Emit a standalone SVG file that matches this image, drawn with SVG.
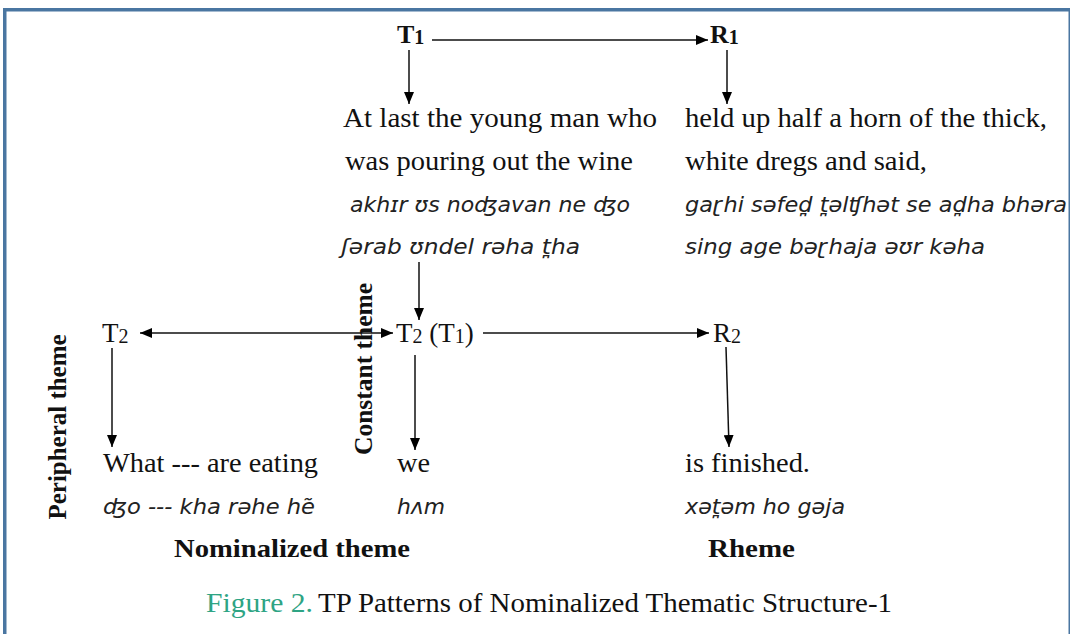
<svg xmlns="http://www.w3.org/2000/svg" width="1070" height="634" viewBox="0 0 1070 634">
  <defs>
    <marker id="ah" viewBox="0 0 12 10" refX="12" refY="5" markerWidth="12" markerHeight="10" orient="auto-start-reverse" markerUnits="userSpaceOnUse">
      <path d="M0,0 L12,5 L0,10 z" fill="#000"/>
    </marker>
    <style>
      .rg { font-family: "Liberation Serif", "Times New Roman", serif; font-size: 27px; fill: #111; }
      .bd { font-family: "Liberation Serif", "Times New Roman", serif; font-size: 26px; font-weight: bold; fill: #111; }
      .it { font-family: "DejaVu Sans", "Noto Sans", sans-serif; font-size: 21px; font-style: oblique; fill: #222; }
      .sub { font-size: 20px; }
      .conn { stroke: #111; stroke-width: 1.5; fill: none; }
      .cap { font-family: "Liberation Serif", "Times New Roman", serif; font-size: 28px; fill: #111; }
      .fig { fill: #2ea484; }
    </style>
  </defs>
  <rect width="1070" height="634" fill="#fff"/>
  <g id="frame">
    <rect x="3" y="8" width="1067" height="3.5" fill="#4a76a1"/>
    <rect x="3" y="8" width="3.5" height="626" fill="#4a76a1"/>
    <rect x="1068.5" y="8" width="1.5" height="626" fill="#4a76a1"/>
  </g>

  <g id="connectors">
    <path class="conn" d="M432,40 H708" marker-end="url(#ah)"/>
    <path class="conn" d="M409,50 V104" marker-end="url(#ah)"/>
    <path class="conn" d="M727,50 V104" marker-end="url(#ah)"/>
    <path class="conn" d="M419,262 V320" marker-end="url(#ah)"/>
    <path class="conn" d="M140,333 H393" marker-start="url(#ah)" marker-end="url(#ah)"/>
    <path class="conn" d="M483,333 H709" marker-end="url(#ah)"/>
    <path class="conn" d="M112,348 V447" marker-end="url(#ah)"/>
    <path class="conn" d="M415,355 V450" marker-end="url(#ah)"/>
    <path class="conn" d="M726,347 L729,447" marker-end="url(#ah)"/>
  </g>

  <g id="T1"><text class="bd" x="397" y="43">T<tspan class="sub" dy="1">1</tspan></text></g>
  <g id="R1"><text class="bd" x="710" y="43">R<tspan class="sub" dy="1">1</tspan></text></g>

  <g id="theme1-text">
    <text class="rg" x="343" y="127" textLength="314" lengthAdjust="spacingAndGlyphs">At last the young man who</text>
    <text class="rg" x="345" y="170" textLength="288" lengthAdjust="spacingAndGlyphs">was pouring out the wine</text>
    <text class="it" x="350" y="212" textLength="280" lengthAdjust="spacingAndGlyphs">akhɪr ʊs noʤavan ne ʤo</text>
    <text class="it" x="341" y="254" textLength="239" lengthAdjust="spacingAndGlyphs">ʃərab ʊndel rəha t̪ha</text>
  </g>

  <g id="rheme1-text">
    <text class="rg" x="685" y="127" textLength="362" lengthAdjust="spacingAndGlyphs">held up half a horn of the thick,</text>
    <text class="rg" x="685" y="170" textLength="242" lengthAdjust="spacingAndGlyphs">white dregs and said,</text>
    <text class="it" x="685" y="212" textLength="382" lengthAdjust="spacingAndGlyphs">gaɽhi səfed̪ t̪əlʧhət se ad̪ha bhəra</text>
    <text class="it" x="685" y="254" textLength="300" lengthAdjust="spacingAndGlyphs">sing age bəɽhaja əʊr kəha</text>
  </g>

  <g id="T2"><text class="rg" x="102" y="342">T<tspan class="sub" dy="1">2</tspan></text></g>
  <g id="T2T1"><text class="rg" x="396" y="342">T<tspan class="sub" dy="1">2</tspan><tspan dy="-1"> (T</tspan><tspan class="sub" dy="1">1</tspan><tspan dy="-1">)</tspan></text></g>
  <g id="R2"><text class="rg" x="713" y="342">R<tspan class="sub" dy="1">2</tspan></text></g>

  <g id="peripheral-text">
    <text class="rg" x="103" y="472" textLength="215" lengthAdjust="spacingAndGlyphs">What --- are eating</text>
    <text class="it" x="103" y="514" textLength="212" lengthAdjust="spacingAndGlyphs">ʤo --- kha rəhe hẽ</text>
  </g>
  <g id="constant-text">
    <text class="rg" x="397" y="472" textLength="33" lengthAdjust="spacingAndGlyphs">we</text>
    <text class="it" x="397" y="514" textLength="48" lengthAdjust="spacingAndGlyphs">hʌm</text>
  </g>
  <g id="rheme2-text">
    <text class="rg" x="685" y="472" textLength="125" lengthAdjust="spacingAndGlyphs">is finished.</text>
    <text class="it" x="685" y="514" textLength="160" lengthAdjust="spacingAndGlyphs">xət̪əm ho gəja</text>
  </g>

  <g id="labels">
    <text class="bd" transform="translate(66,427) rotate(-90)" text-anchor="middle" textLength="185" lengthAdjust="spacingAndGlyphs">Peripheral theme</text>
    <text class="bd" transform="translate(372,369) rotate(-90)" text-anchor="middle" textLength="172" lengthAdjust="spacingAndGlyphs">Constant theme</text>
    <text class="bd" x="174" y="557" textLength="236" lengthAdjust="spacingAndGlyphs">Nominalized theme</text>
    <text class="bd" x="708" y="557" textLength="87" lengthAdjust="spacingAndGlyphs">Rheme</text>
  </g>

  <g id="caption">
    <text class="cap fig" x="206" y="612" textLength="107" lengthAdjust="spacingAndGlyphs">Figure 2.</text>
    <text class="cap" x="318" y="612" textLength="574" lengthAdjust="spacingAndGlyphs">TP Patterns of Nominalized Thematic Structure-1</text>
  </g>
</svg>
